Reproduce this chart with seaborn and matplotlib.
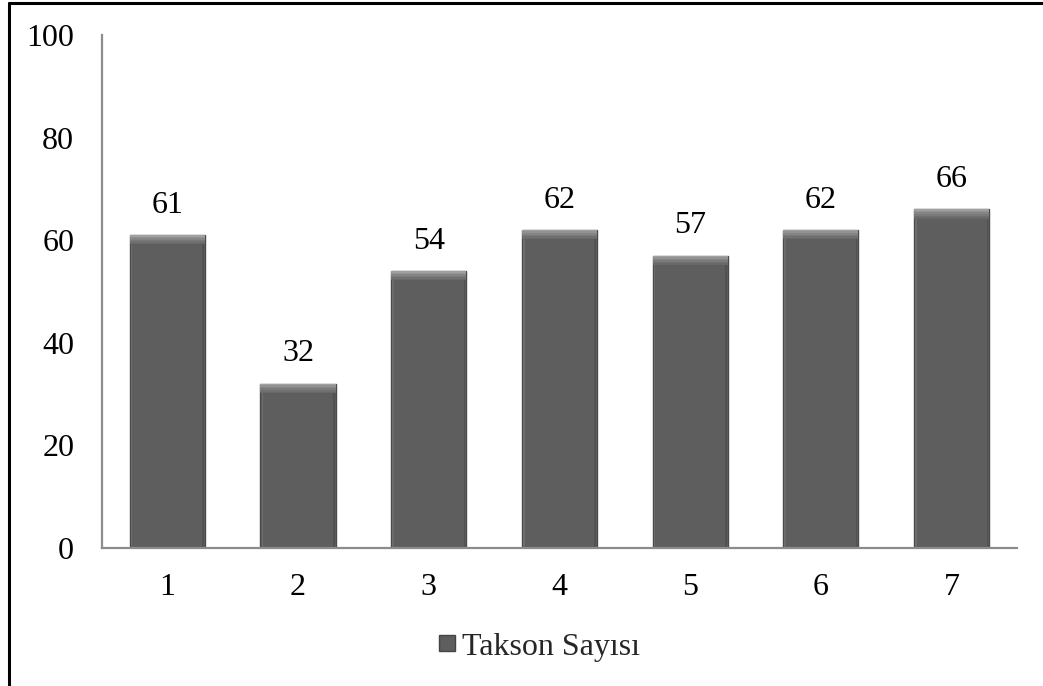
import pandas as pd
import matplotlib.pyplot as plt
import seaborn as sns
from matplotlib.patches import Rectangle
from matplotlib.lines import Line2D

# ==========================
# Datos
# ==========================
istasyon = ["1", "2", "3", "4", "5", "6", "7"]
takson = [61, 32, 54, 62, 57, 62, 66]
seri_adi = "Takson Sayısı"
y_ticks = [0, 20, 40, 60, 80, 100]

df = pd.DataFrame({"istasyon": istasyon, "takson": takson})

# ==========================
# Grafik
# ==========================
sns.set_theme(style="white")
plt.rcParams["font.family"] = ["Liberation Serif", "DejaVu Serif"]

fig = plt.figure(figsize=(10.43, 6.86), dpi=100)
ax = fig.add_axes([0.0978, 0.2012, 0.8772, 0.7478])

sns.barplot(data=df, x="istasyon", y="takson", color="#5e5e5e", width=0.575,
            saturation=1, edgecolor="#4a4a4a", linewidth=1.0, ax=ax)

# bisel efekti (ust kenarda yumusak acik serit, yanlarda ince acik kenar)
bevel = ["#a0a0a0", "#929292", "#858585", "#7a7a7a", "#707070", "#686868"]
for p in list(ax.patches):
    x0, w, h = p.get_x(), p.get_width(), p.get_height()
    z = p.get_zorder()
    ax.add_patch(Rectangle((x0 + 0.008, 0), 0.012, h, facecolor="#6c6c6c",
                           edgecolor="none", zorder=z + 0.1))
    ax.add_patch(Rectangle((x0 + w - 0.02, 0), 0.012, h, facecolor="#525252",
                           edgecolor="none", zorder=z + 0.1))
    step = 0.3
    for i, c in enumerate(bevel):
        ax.add_patch(Rectangle((x0, h - (i + 1) * step), w, step, facecolor=c,
                               edgecolor="none", zorder=z + 0.2))

for p, v in zip(ax.patches[:len(takson)], takson):
    ax.text(p.get_x() + p.get_width() / 2, v + 3.0, str(v), ha="center",
            va="bottom", fontsize=23, color="black")

ax.set_ylim(0, 100)
ax.set_xlim(-0.5, len(istasyon) - 0.5)
ax.set_yticks(y_ticks)
ax.set_xlabel("")
ax.set_ylabel("")
ax.tick_params(axis="both", length=0, labelsize=23, colors="black")
ax.tick_params(axis="y", pad=20)
ax.tick_params(axis="x", pad=18)

for s in ["top", "right"]:
    ax.spines[s].set_visible(False)
for s in ["left", "bottom"]:
    ax.spines[s].set_color("#8c8c8c")
    ax.spines[s].set_linewidth(1.6)

# Lejant
handle = Line2D([], [], marker="s", linestyle="none", markersize=11,
                markerfacecolor="#5e5e5e", markeredgecolor="#444444")
fig.legend([handle], [seri_adi], loc="center", bbox_to_anchor=(0.515, 0.057),
           frameon=False, fontsize=23, handletextpad=0.05, handlelength=0.8)

# Cerceve (ust ve sol)
fig.add_artist(Line2D([0.0085, 1.0], [0.9955, 0.9955], color="black",
                      linewidth=2.2, transform=fig.transFigure))
fig.add_artist(Line2D([0.0085, 0.0085], [0.0, 0.9955], color="black",
                      linewidth=2.2, transform=fig.transFigure))

fig.savefig("out.png", dpi=100)
